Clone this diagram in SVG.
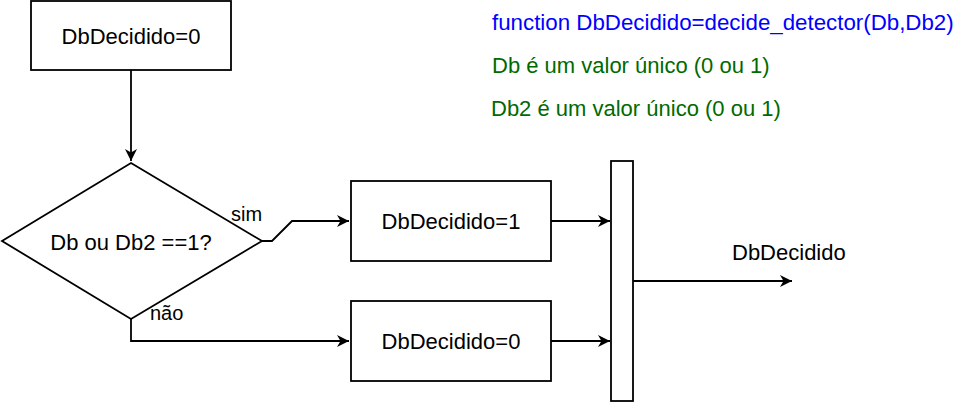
<svg xmlns="http://www.w3.org/2000/svg" width="962" height="404" viewBox="0 0 962 404">
<style>
.box{fill:#fff;stroke:#000;stroke-width:1.8}
.edge{fill:none;stroke:#000;stroke-width:1.8}
text{font-family:"Liberation Sans",Arial,sans-serif;font-size:22px;fill:#000}
.lbl{font-size:20px}
.c{text-anchor:middle}
.blue{fill:#0000ff}
.green{fill:#006a00}
</style>
<defs>
<marker id="ah" markerWidth="13" markerHeight="12" refX="12" refY="6" orient="auto" markerUnits="userSpaceOnUse">
<path d="M0,0 L12,6 L0,12 L3.5,6 z" fill="#000"/>
</marker>
</defs>
<g id="connectors">
<path class="edge" d="M131,70 L131,161" marker-end="url(#ah)"/>
<path class="edge" d="M262,241 L272,241 L292,221 L349,221" marker-end="url(#ah)"/>
<path class="edge" d="M131,319 L131,341 L349,341" marker-end="url(#ah)"/>
<path class="edge" d="M551,221 L610,221" marker-end="url(#ah)"/>
<path class="edge" d="M551,341 L610,341" marker-end="url(#ah)"/>
<path class="edge" d="M633,281 L792,281" marker-end="url(#ah)"/>
</g>
<g id="init">
<rect class="box" x="31" y="1" width="200" height="69"/>
<text class="c" x="131" y="44">DbDecidido=0</text>
</g>
<g id="decision">
<polygon class="box" points="131,163 262,241 131,319 2,241"/>
<text class="c" x="131" y="250">Db ou Db2 ==1?</text>
</g>
<g id="set1">
<rect class="box" x="351" y="181" width="200" height="80"/>
<text class="c" x="451" y="229">DbDecidido=1</text>
</g>
<g id="set0">
<rect class="box" x="351" y="301" width="200" height="80"/>
<text class="c" x="451" y="349">DbDecidido=0</text>
</g>
<g id="merge">
<rect class="box" x="611" y="161" width="22" height="240"/>
</g>
<g id="labels">
<text class="lbl" x="231" y="221">sim</text>
<text class="lbl" x="150" y="320">não</text>
<text x="732" y="260">DbDecidido</text>
</g>
<g id="notes">
<text class="blue" x="492" y="30" style="font-size:22.3px">function DbDecidido=decide_detector(Db,Db2)</text>
<text class="green" x="492" y="73">Db é um valor único (0 ou 1)</text>
<text class="green" x="491" y="116">Db2 é um valor único (0 ou 1)</text>
</g>
</svg>
